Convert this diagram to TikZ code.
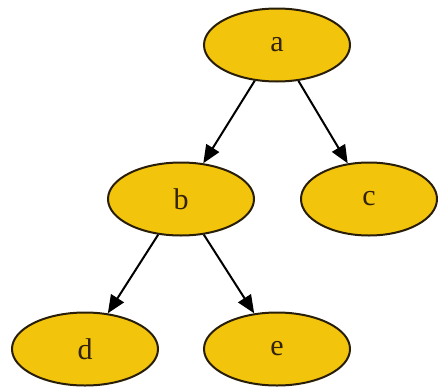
\documentclass[tikz,border=0pt]{standalone}
\usepackage{fontspec}
\setmainfont{Liberation Serif}
\usetikzlibrary{shapes.geometric,arrows.meta}
\definecolor{nodegold}{RGB}{243,196,12}
\definecolor{nodeline}{RGB}{40,30,10}
\definecolor{textbrown}{RGB}{50,35,10}
\tikzset{
  treenode/.style={ellipse, draw=nodeline, line width=2pt, fill=nodegold,
    minimum width=146pt, minimum height=73pt, inner sep=0pt, text=textbrown,
    font=\fontsize{30}{30}\selectfont},
  treeedge/.style={draw=black, line width=2pt, -{Triangle[length=18pt,width=15pt]}}
}
\begin{document}
\begin{tikzpicture}[x=1pt,y=-1pt]
\useasboundingbox (0,0) rectangle (438,388);
\node[treenode] (a) at (277,45) {a};
\node[treenode] (b) at (181,199) {b};
\node[treenode, minimum width=136pt] (c) at (369,199) {c};
\node[treenode] (d) at (85,349) {d};
\node[treenode] (e) at (277,349) {e};
\draw[treeedge] (a) -- (b);
\draw[treeedge] (a) -- (c);
\draw[treeedge] (b) -- (d);
\draw[treeedge] (b) -- (e);
\end{tikzpicture}
\end{document}
